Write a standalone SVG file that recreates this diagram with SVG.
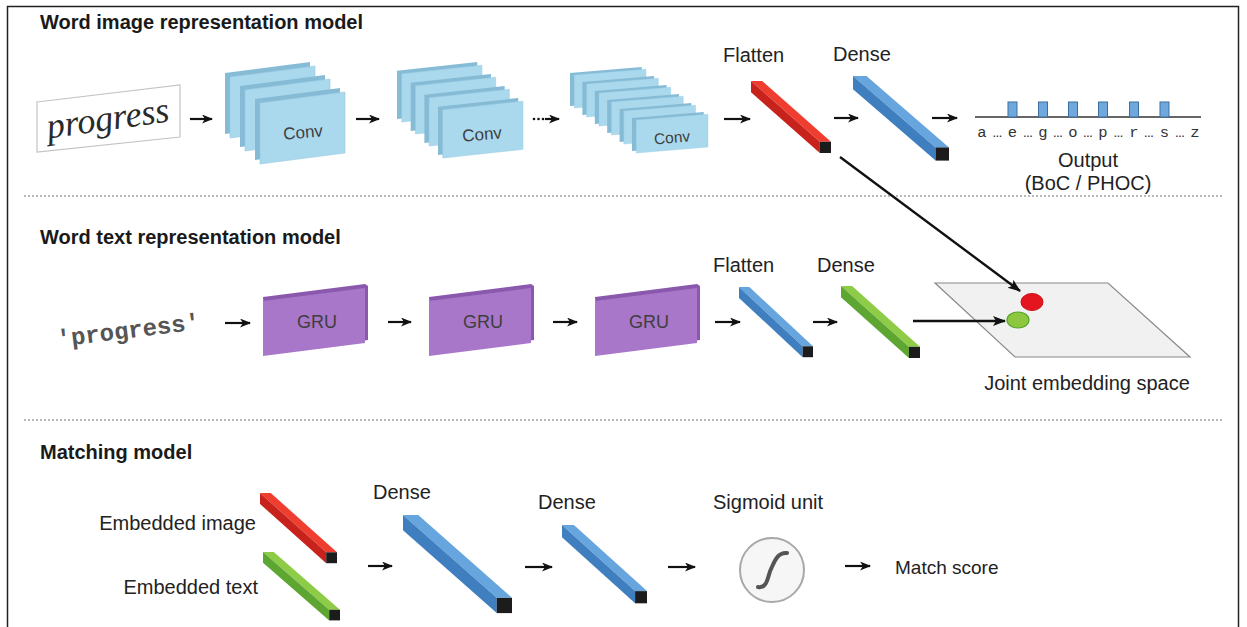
<svg xmlns="http://www.w3.org/2000/svg" xmlns:xlink="http://www.w3.org/1999/xlink" width="1247" height="627" viewBox="0 0 1247 627">
<style>
.t{font-family:"Liberation Sans",Arial,sans-serif;font-size:20px;fill:#222}
.h{font-family:"Liberation Sans",Arial,sans-serif;font-size:20px;font-weight:bold;fill:#1a1a1a}
.lbl{font-family:"Liberation Sans",Arial,sans-serif;font-size:17px;fill:#3e3e3e;text-anchor:middle}
.mono{font-family:"Liberation Mono","Courier New",monospace;font-size:15.5px;fill:#333;text-anchor:middle}
.ar{stroke:#111;stroke-width:2.2;fill:none;marker-end:url(#ah)}
.arl{stroke:#111;stroke-width:2.4;fill:none;marker-end:url(#ahl)}
.sep{stroke:#777;stroke-width:1;stroke-dasharray:2 2;fill:none}
.edge{fill:#86bbd6}
.face{fill:#aad9ee;stroke:#98cbe2;stroke-width:0.6}
.gruE{fill:#8a58ad}
.gruF{fill:#a877c9}
</style>
<defs>
<marker id="ah" markerUnits="userSpaceOnUse" markerWidth="12" markerHeight="10" refX="10" refY="4.5" orient="auto">
<path d="M0,0 L11,4.5 L0,9 L3,4.5 z" fill="#111"/>
</marker>
<marker id="ahl" markerUnits="userSpaceOnUse" markerWidth="14" markerHeight="12" refX="12" refY="5" orient="auto">
<path d="M0,0 L13,5 L0,10 L3,5 z" fill="#111"/>
</marker>
<g id="sheet">
<polygon class="edge" points="0,11 85,0 85,61 0,72"/>
<polygon class="face" points="5,15 90,4 90,65 5,76"/>
</g>
<g id="barR">
<polygon points="0,0 14,0 100,76 86,76" fill="#ef3e30"/>
<polygon points="0,0 0,14 86,90 86,76" fill="#c8221c"/>
<rect x="86" y="76" width="14" height="14" fill="#1c1c1c"/>
</g>
<g id="barB">
<polygon points="0,0 14,0 100,76 86,76" fill="#66a5dd"/>
<polygon points="0,0 0,14 86,90 86,76" fill="#3f7fc0"/>
<rect x="86" y="76" width="14" height="14" fill="#1c1c1c"/>
</g>
<g id="barG">
<polygon points="0,0 14,0 100,76 86,76" fill="#8ecc47"/>
<polygon points="0,0 0,14 86,90 86,76" fill="#5da632"/>
<rect x="86" y="76" width="14" height="14" fill="#1c1c1c"/>
</g>
<g id="gru">
<polygon class="gruE" points="0,13 102,0 105,2 105,56 3,69"/>
<polygon class="gruF" points="0,17 102,4 102,59 0,72"/>
</g>
</defs>

<rect x="7.5" y="6.5" width="1231" height="640" fill="#fff" stroke="#222" stroke-width="1.5"/>
<line class="sep" x1="24" y1="196" x2="1224" y2="196"/>
<line class="sep" x1="24" y1="420" x2="1224" y2="420"/>

<g id="titles">
<text class="h" x="40" y="29">Word image representation model</text>
<text class="h" x="40" y="244">Word text representation model</text>
<text class="h" x="40" y="459">Matching model</text>
</g>

<g id="word-image">
<polygon points="37,102 180,85 180,137 37,152" fill="#fff" stroke="#c4c4c4" stroke-width="1.2"/>
<text x="108" y="130" transform="rotate(-8 108 120)" text-anchor="middle" style="font-family:'Liberation Serif','Times New Roman',serif;font-style:italic;font-size:36px;fill:#2a2a2a">progress</text>
</g>

<g id="conv1">
<use xlink:href="#sheet" transform="translate(225,62)"/>
<use xlink:href="#sheet" transform="translate(240,75)"/>
<use xlink:href="#sheet" transform="translate(255,88)"/>
<text class="lbl" x="303" y="138" transform="rotate(-5 303 132)">Conv</text>
</g>

<g id="conv2">
<use xlink:href="#sheet" transform="translate(397,62) scale(0.944,0.79)"/>
<use xlink:href="#sheet" transform="translate(410.7,74) scale(0.944,0.79)"/>
<use xlink:href="#sheet" transform="translate(424.4,86) scale(0.944,0.79)"/>
<use xlink:href="#sheet" transform="translate(438,98) scale(0.944,0.79)"/>
<text class="lbl" x="482" y="140" transform="rotate(-5 482 134)">Conv</text>
</g>

<g id="conv3">
<use xlink:href="#sheet" transform="translate(570,67) scale(0.844,0.54)"/>
<use xlink:href="#sheet" transform="translate(582.4,76) scale(0.844,0.54)"/>
<use xlink:href="#sheet" transform="translate(594.8,85) scale(0.844,0.54)"/>
<use xlink:href="#sheet" transform="translate(607.2,94) scale(0.844,0.54)"/>
<use xlink:href="#sheet" transform="translate(619.6,103) scale(0.844,0.54)"/>
<use xlink:href="#sheet" transform="translate(632,112) scale(0.844,0.54)"/>
<text class="lbl" x="672" y="143" transform="rotate(-5 672 138)" style="font-size:15.5px">Conv</text>
</g>

<g id="flatten1">
<text class="t" x="723" y="62">Flatten</text>
<use xlink:href="#barR" transform="translate(751,81) scale(0.8,0.8)"/>
</g>

<g id="dense1">
<text class="t" x="833" y="61">Dense</text>
<use xlink:href="#barB" transform="translate(853,76) scale(0.96,0.94)"/>
</g>

<g id="output">
<line x1="975" y1="117" x2="1201" y2="117" stroke="#666" stroke-width="1.8"/>
<g fill="#6fa8dc" stroke="#3d6f9e" stroke-width="1">
<rect x="1008" y="102" width="9" height="15"/>
<rect x="1038.5" y="102" width="9" height="15"/>
<rect x="1068.5" y="102" width="9" height="15"/>
<rect x="1098.5" y="102" width="9" height="15"/>
<rect x="1129.5" y="102" width="9" height="15"/>
<rect x="1160" y="102" width="9" height="15"/>
</g>
<text class="mono" x="982" y="137">a</text>
<text class="mono" x="997.5" y="137">…</text>
<text class="mono" x="1012.5" y="137">e</text>
<text class="mono" x="1028" y="137">…</text>
<text class="mono" x="1043" y="137">g</text>
<text class="mono" x="1058" y="137">…</text>
<text class="mono" x="1073" y="137">o</text>
<text class="mono" x="1088" y="137">…</text>
<text class="mono" x="1103" y="137">p</text>
<text class="mono" x="1118.5" y="137">…</text>
<text class="mono" x="1134" y="137">r</text>
<text class="mono" x="1149" y="137">…</text>
<text class="mono" x="1164.5" y="137">s</text>
<text class="mono" x="1180" y="137">…</text>
<text class="mono" x="1195" y="137">z</text>
<text class="t" x="1088" y="167" text-anchor="middle">Output</text>
<text class="t" x="1088" y="190" text-anchor="middle">(BoC / PHOC)</text>
</g>

<g id="word-text">
<text x="128" y="338" transform="rotate(-7 128 328)" text-anchor="middle" style="font-family:'Liberation Mono','Courier New',monospace;font-weight:bold;font-size:24px;fill:#555">'progress'</text>
</g>

<g id="gru1"><use xlink:href="#gru" transform="translate(263,284)"/><text class="lbl" x="317" y="328" style="font-size:18px">GRU</text></g>
<g id="gru2"><use xlink:href="#gru" transform="translate(429,284)"/><text class="lbl" x="483" y="328" style="font-size:18px">GRU</text></g>
<g id="gru3"><use xlink:href="#gru" transform="translate(595,284)"/><text class="lbl" x="649" y="328" style="font-size:18px">GRU</text></g>

<g id="flatten2">
<text class="t" x="713" y="272">Flatten</text>
<use xlink:href="#barB" transform="translate(739,287) scale(0.74,0.78)"/>
</g>
<g id="dense2">
<text class="t" x="817" y="272">Dense</text>
<use xlink:href="#barG" transform="translate(841,286) scale(0.79,0.8)"/>
</g>

<g id="joint-space">
<polygon points="935,283 1108,283 1190,357 1015,357" fill="#f1f1f1" stroke="#8a8a8a" stroke-width="1.2"/>
<ellipse cx="1032" cy="302" rx="11" ry="8.5" fill="#e5151f" stroke="#c8101a" stroke-width="1"/>
<ellipse cx="1018" cy="320" rx="11" ry="8" fill="#8dc63f" stroke="#55a52c" stroke-width="1.2"/>
<text class="t" x="1087" y="390" text-anchor="middle">Joint embedding space</text>
</g>

<g id="embedded">
<text class="t" x="256" y="530" text-anchor="end">Embedded image</text>
<text class="t" x="258" y="594" text-anchor="end">Embedded text</text>
<use xlink:href="#barR" transform="translate(260,493) scale(0.77,0.78)"/>
<use xlink:href="#barG" transform="translate(263,552) scale(0.77,0.76)"/>
</g>

<g id="dense3">
<text class="t" x="373" y="499">Dense</text>
<use xlink:href="#barB" transform="translate(403,515) scale(1.09,1.09)"/>
</g>
<g id="dense4">
<text class="t" x="538" y="509">Dense</text>
<use xlink:href="#barB" transform="translate(562,525) scale(0.85,0.87)"/>
</g>

<g id="sigmoid">
<text class="t" x="713" y="509">Sigmoid unit</text>
<circle cx="772" cy="570" r="32" fill="#f6f6f6" stroke="#a8a8a8" stroke-width="2"/>
<path d="M758,587 C768,589 768,574 771,569 C774,563 777,552 787,553" fill="none" stroke="#555" stroke-width="4" stroke-linecap="round"/>
</g>

<g id="match">
<text class="t" x="895" y="574" style="font-size:19px">Match score</text>
</g>

<g id="connectors">
<line class="ar" x1="190" y1="119" x2="212" y2="119"/>
<line class="ar" x1="356" y1="119" x2="379" y2="119"/>
<g fill="#111"><circle cx="534" cy="119" r="1.3"/><circle cx="538.5" cy="119" r="1.3"/><circle cx="543" cy="119" r="1.3"/></g>
<line class="ar" x1="545" y1="119" x2="559" y2="119"/>
<line class="ar" x1="724" y1="119" x2="750" y2="119"/>
<line class="ar" x1="834" y1="118" x2="858" y2="118"/>
<line class="ar" x1="932" y1="118" x2="957" y2="118"/>
<line class="arl" x1="840" y1="157" x2="1020" y2="291"/>
<line class="ar" x1="225" y1="323" x2="250" y2="323"/>
<line class="ar" x1="388" y1="322" x2="411" y2="322"/>
<line class="ar" x1="553" y1="322" x2="577" y2="322"/>
<line class="ar" x1="715" y1="322" x2="740" y2="322"/>
<line class="ar" x1="813" y1="322" x2="837" y2="322"/>
<line class="arl" x1="913" y1="321" x2="1005" y2="321"/>
<line class="ar" x1="368" y1="566" x2="392" y2="566"/>
<line class="ar" x1="525" y1="567" x2="552" y2="567"/>
<line class="ar" x1="668" y1="567" x2="695" y2="567"/>
<line class="ar" x1="845" y1="566" x2="870" y2="566"/>
</g>
</svg>
